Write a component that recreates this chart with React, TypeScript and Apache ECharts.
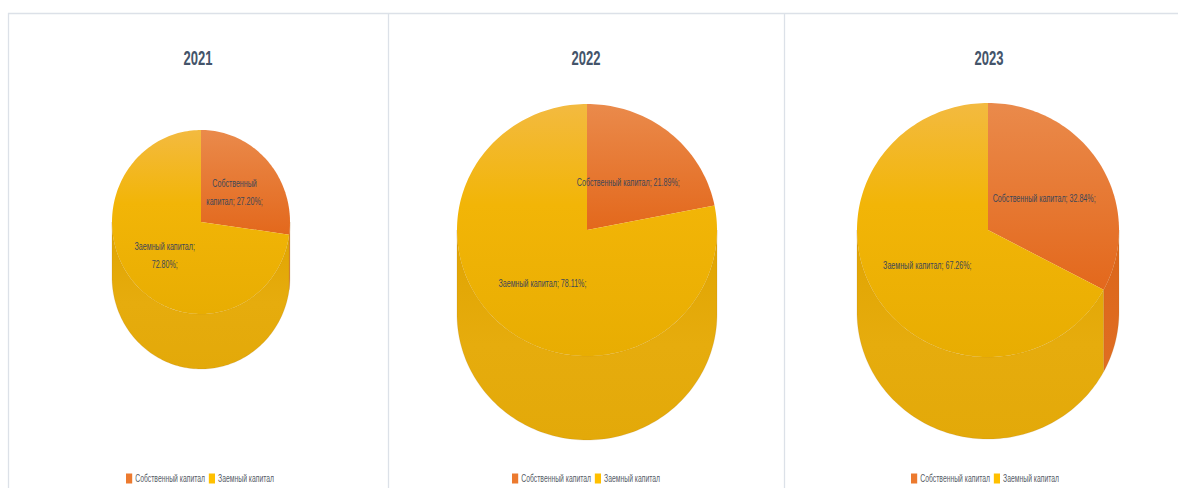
import React, { useEffect, useRef } from "react";
import * as echarts from "echarts";

// ---- data ----
const years = ["2021", "2022", "2023"];
const categories = ["Собственный капитал", "Заемный капитал"];
const ownCapital = [27.2, 21.89, 32.84];
const borrowedCapital = [72.8, 78.11, 67.26];

// ---- layout (screen px) ----
const S = 0.62; // horizontal condensing of the whole picture
const W = Math.round(1179 / S);
const H = 488;
const PIES = [
  { cx: 201, cy: 222, rx: 89, ry: 92, depth: 55, compact: true },
  { cx: 587, cy: 230, rx: 130, ry: 126, depth: 84, compact: false },
  { cx: 988, cy: 230, rx: 131, ry: 127, depth: 82, compact: false },
];
const TITLE_X = [198, 586, 989];
const LEGEND_X = [126, 512, 911];
const DIVIDERS = [8.5, 388.5, 784.5];

const TOP_COLORS = [
  [
    { offset: 0, color: "#EA8A4B" },
    { offset: 1, color: "#E3681C" },
  ],
  [
    { offset: 0, color: "#F3BA40" },
    { offset: 0.4, color: "#F2B507" },
    { offset: 1, color: "#E8AD02" },
  ],
];
const SIDE_COLORS = [
  [
    { offset: 0, color: "#DB6519" },
    { offset: 1, color: "#E06E22" },
  ],
  [
    { offset: 0, color: "#E0A401" },
    { offset: 0.55, color: "#E6AC0D" },
    { offset: 1, color: "#E3A909" },
  ],
];
const LEGEND_COLORS = ["#EC7A2F", "#FFC000"];

function labelText(seriesIdx: number, value: number, compact: boolean) {
  const v = `${Number(value).toFixed(2)}%;`;
  const name = categories[seriesIdx];
  if (!compact) return `${name}; ${v}`;
  if (seriesIdx === 0) {
    const sp = name.indexOf(" ");
    return `${name.slice(0, sp)}\n${name.slice(sp + 1)}; ${v}`;
  }
  return `${name};\n${v}`;
}

function makeRenderItem(seriesIdx: number) {
  return (params: any, api: any) => {
    const i = params.dataIndex;
    const g = PIES[i];
    const cx = g.cx / S;
    const cy = g.cy;
    const rx = g.rx / S;
    const ry = g.ry;
    const total = ownCapital[i] + borrowedCapital[i];
    const ownDeg = (ownCapital[i] / total) * 360;
    const start = seriesIdx === 0 ? 0 : ownDeg;
    const end = seriesIdx === 0 ? ownDeg : 360;
    const value = api.value(0);

    const pt = (deg: number, dy: number) => {
      const t = (deg * Math.PI) / 180;
      return [cx + rx * Math.sin(t), cy - ry * Math.cos(t) + dy];
    };
    const arc = (a1: number, a2: number, dy: number) => {
      const n = Math.max(2, Math.ceil((a2 - a1) / 1.5));
      const pts: number[][] = [];
      for (let k = 0; k <= n; k++) pts.push(pt(a1 + ((a2 - a1) * k) / n, dy));
      return pts;
    };

    const children: any[] = [];
    const b1 = Math.max(start, 90);
    const b2 = Math.min(end, 270);
    if (b2 > b1) {
      children.push({
        type: "polygon",
        shape: { points: [...arc(b1, b2, 0), ...arc(b1, b2, g.depth).reverse()] },
        style: {
          fill: new echarts.graphic.LinearGradient(0, 0, 0, 1, SIDE_COLORS[seriesIdx]),
          stroke: "rgba(160,115,40,0.25)",
          lineWidth: 0.8,
        },
      });
    }
    children.push({
      type: "polygon",
      shape: { points: [[cx, cy], ...arc(start, end, 0)] },
      style: {
        fill: new echarts.graphic.LinearGradient(0, 0, 0, 1, TOP_COLORS[seriesIdx]),
      },
    });

    const mid = ((start + end) / 2) * (Math.PI / 180);
    const f = seriesIdx === 0 ? 0.5 : 0.54;
    const lx = cx + f * rx * Math.sin(mid);
    const ly = cy - f * ry * Math.cos(mid);
    children.push({
      type: "text",
      x: lx,
      y: ly,
      z2: 100,
      style: {
        text: labelText(seriesIdx, value, g.compact),
        fill: "#3E4757",
        fontSize: 11.5,
        fontFamily: "Liberation Sans",
        align: "center",
        verticalAlign: "middle",
        lineHeight: 18,
      },
    });

    return { type: "group", children };
  };
}

export default function App() {
  const ref = useRef<HTMLDivElement>(null);

  useEffect(() => {
    if (!ref.current) return;
    const chart = echarts.init(ref.current, undefined, { renderer: "svg" });

    const lineColor = "#DCE1E8";
    const graphics: any[] = [
      {
        type: "line",
        shape: { x1: 8 / S, y1: 13.5, x2: 1178 / S, y2: 13.5 },
        style: { stroke: lineColor, lineWidth: 1.3 },
      },
      ...DIVIDERS.map((x) => ({
        type: "line",
        shape: { x1: x / S, y1: 13, x2: x / S, y2: H },
        style: { stroke: lineColor, lineWidth: 1.3 / S },
      })),
    ];

    chart.setOption({
      animation: false,
      backgroundColor: "#ffffff",
      title: years.map((y, i) => ({
        text: y,
        left: TITLE_X[i] / S,
        top: 47,
        textAlign: "center",
        padding: 0,
        textStyle: {
          fontSize: 21,
          fontWeight: "bold",
          color: "#44546A",
          fontFamily: "Liberation Sans",
        },
      })),
      legend: years.map((_, i) => ({
        data: categories,
        left: LEGEND_X[i] / S,
        top: 473,
        padding: 0,
        itemWidth: 10,
        itemHeight: 10,
        itemGap: 6,
        icon: "rect",
        selectedMode: false,
        textStyle: { fontSize: 11, color: "#555B66", fontFamily: "Liberation Sans" },
      })),
      graphic: graphics,
      series: categories.map((name, s) => ({
        type: "custom",
        name,
        coordinateSystem: "none",
        itemStyle: { color: LEGEND_COLORS[s] },
        data: (s === 0 ? ownCapital : borrowedCapital).map((v) => [v]),
        renderItem: makeRenderItem(s),
      })),
    });

    return () => chart.dispose();
  }, []);

  return (
    <div
      style={{
        position: "fixed",
        left: 0,
        top: 0,
        width: 1179,
        height: H,
        overflow: "hidden",
        background: "#fff",
      }}
    >
      <div
        ref={ref}
        style={{ width: W, height: H, transform: `scaleX(${S})`, transformOrigin: "0 0" }}
      />
    </div>
  );
}
